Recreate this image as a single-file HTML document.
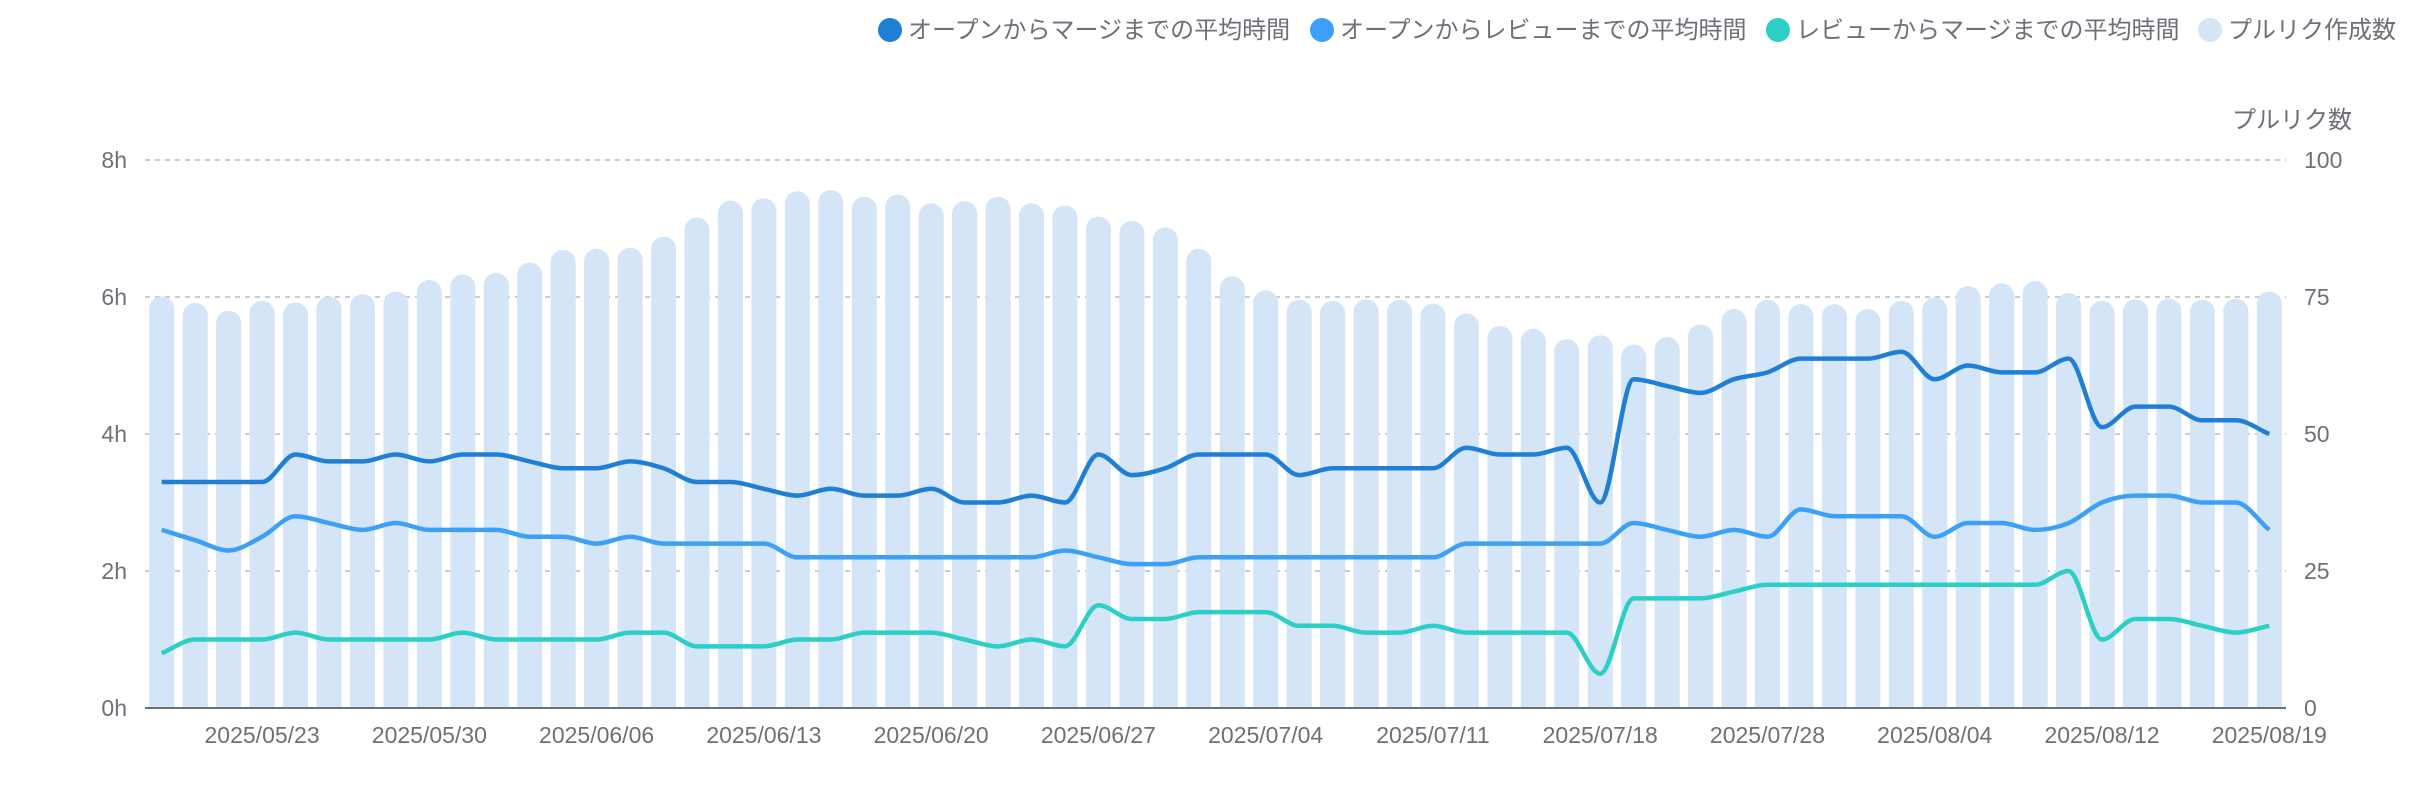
<!DOCTYPE html>
<html><head><meta charset="utf-8">
<style>
html,body{margin:0;padding:0;background:#fff;}
body{width:2420px;height:780px;overflow:hidden;font-family:"Liberation Sans","Noto Sans CJK JP",sans-serif;}
svg text{font-family:"Liberation Sans","Noto Sans CJK JP",sans-serif;fill:#6e7079;}
</style></head>
<body>
<svg id="chart" width="2420" height="780" xmlns="http://www.w3.org/2000/svg"></svg>
<script>
const categories=["05/20","05/21","05/22","05/23","05/26","05/27","05/28","05/29","05/30","06/02","06/03","06/04","06/05","06/06","06/09","06/10","06/11","06/12","06/13","06/16","06/17","06/18","06/19","06/20","06/23","06/24","06/25","06/26","06/27","06/30","07/01","07/02","07/03","07/04","07/07","07/08","07/09","07/10","07/11","07/14","07/15","07/16","07/17","07/18","07/21","07/22","07/23","07/24","07/28","07/29","07/30","07/31","08/01","08/04","08/05","08/06","08/07","08/08","08/12","08/13","08/14","08/15","08/18","08/19"];
const tickIndex=[3,8,13,18,23,28,33,38,43,48,53,58,63];
const tickLabels=["2025/05/23","2025/05/30","2025/06/06","2025/06/13","2025/06/20","2025/06/27","2025/07/04","2025/07/11","2025/07/18","2025/07/28","2025/08/04","2025/08/12","2025/08/19"];
const prCount=[75.1,73.9,72.5,74.3,74,75.1,75.5,76,78.1,79.1,79.4,81.3,83.6,83.8,84,86,89.5,92.6,93,94.3,94.5,93.3,93.7,92.1,92.5,93.3,92.1,91.7,89.7,88.9,87.7,83.8,78.8,76.2,74.5,74.3,74.6,74.5,73.8,72,69.7,69.2,67.3,68,66.3,67.7,70,72.8,74.5,73.7,73.7,72.8,74.3,74.9,77,77.5,77.9,75.7,74.3,74.6,74.7,74.5,74.7,76];
const openToMerge=[3.3,3.3,3.3,3.3,3.7,3.6,3.6,3.7,3.6,3.7,3.7,3.6,3.5,3.5,3.6,3.5,3.3,3.3,3.2,3.1,3.2,3.1,3.1,3.2,3.0,3.0,3.1,3.0,3.7,3.4,3.5,3.7,3.7,3.7,3.4,3.5,3.5,3.5,3.5,3.8,3.7,3.7,3.8,3.0,4.8,4.7,4.6,4.8,4.9,5.1,5.1,5.1,5.2,4.8,5.0,4.9,4.9,5.1,4.1,4.4,4.4,4.2,4.2,4.0];
const openToReview=[2.6,2.45,2.3,2.5,2.8,2.7,2.6,2.7,2.6,2.6,2.6,2.5,2.5,2.4,2.5,2.4,2.4,2.4,2.4,2.2,2.2,2.2,2.2,2.2,2.2,2.2,2.2,2.3,2.2,2.1,2.1,2.2,2.2,2.2,2.2,2.2,2.2,2.2,2.2,2.4,2.4,2.4,2.4,2.4,2.7,2.6,2.5,2.6,2.5,2.9,2.8,2.8,2.8,2.5,2.7,2.7,2.6,2.7,3.0,3.1,3.1,3.0,3.0,2.6];
const reviewToMerge=[0.8,1.0,1.0,1.0,1.1,1.0,1.0,1.0,1.0,1.1,1.0,1.0,1.0,1.0,1.1,1.1,0.9,0.9,0.9,1.0,1.0,1.1,1.1,1.1,1.0,0.9,1.0,0.9,1.5,1.3,1.3,1.4,1.4,1.4,1.2,1.2,1.1,1.1,1.2,1.1,1.1,1.1,1.1,0.5,1.6,1.6,1.6,1.7,1.8,1.8,1.8,1.8,1.8,1.8,1.8,1.8,1.8,2.0,1.0,1.3,1.3,1.2,1.1,1.2];
const leftTicks=[0,2,4,6,8];
const rightTicks=[0,25,50,75,100];

const svg=document.getElementById('chart');
const NS='http://www.w3.org/2000/svg';
const X0=145,X1=2286,Y0=708,Y1=160;
const band=(X1-X0)/categories.length;
const xc=i=>X0+band*(i+0.5);
const yL=v=>Y0-(v/8)*(Y0-Y1);
const yR=v=>Y0-(v/100)*(Y0-Y1);
function mk(tag,attrs,parent){const e=document.createElementNS(NS,tag);for(const k in attrs)e.setAttribute(k,attrs[k]);(parent||svg).appendChild(e);return e;}

leftTicks.forEach((t,i)=>{
  if(t>0){const g=mk('line',{x1:X0,x2:X1,y1:yL(t),y2:yL(t),stroke:'#c9ccd3','stroke-width':2,'stroke-dasharray':'5,5'});
  
  }
  const tx=mk('text',{x:127,y:yL(t)+8,'text-anchor':'end','font-size':23});tx.textContent=t+'h';
  
  
});
rightTicks.forEach(t=>{
  const tx=mk('text',{x:2304,y:yR(t)+8,'font-size':23});tx.textContent=t;
  
  
});
const rt=mk('text',{x:2352,y:128,'text-anchor':'end','font-size':24});rt.textContent='プルリク数';



const bw=25;
prCount.forEach((v,i)=>{
  const top=yR(v);
  const p=mk('path',{d:`M${xc(i)-bw/2},${Y0} V${top+bw/2} A${bw/2},${bw/2} 0 0 1 ${xc(i)+bw/2},${top+bw/2} V${Y0} Z`,fill:'#d3e5f6'});
  
  
});
const ax=mk('line',{x1:X0,x2:X1,y1:Y0,y2:Y0,stroke:'#6e7079','stroke-width':2});


tickIndex.forEach((ti,k)=>{
  const tx=mk('text',{x:xc(ti),y:743,'text-anchor':'middle','font-size':23});tx.textContent=tickLabels[k];
  
  
});

function monoPath(pts){
  const n=pts.length,dx=[],dy=[],m=[],t=[];
  for(let i=0;i<n-1;i++){dx[i]=pts[i+1][0]-pts[i][0];dy[i]=pts[i+1][1]-pts[i][1];m[i]=dy[i]/dx[i];}
  t[0]=m[0];t[n-1]=m[n-2];
  for(let i=1;i<n-1;i++){t[i]=(m[i-1]*m[i]<=0)?0:(m[i-1]+m[i])/2;}
  for(let i=0;i<n-1;i++){if(m[i]===0){t[i]=0;t[i+1]=0;continue;}
    const a=t[i]/m[i],b=t[i+1]/m[i],s=a*a+b*b;if(s>9){const tau=3/Math.sqrt(s);t[i]=tau*a*m[i];t[i+1]=tau*b*m[i];}}
  let d=`M${pts[0][0]},${pts[0][1]}`;
  for(let i=0;i<n-1;i++){const h=dx[i]/3;
    d+=` C${pts[i][0]+h},${pts[i][1]+t[i]*h} ${pts[i+1][0]-h},${pts[i+1][1]-t[i+1]*h} ${pts[i+1][0]},${pts[i+1][1]}`;}
  return d;
}
function line(vals,color,name){
  const p=mk('path',{d:monoPath(vals.map((v,i)=>[xc(i),yL(v)])),fill:'none',stroke:color,'stroke-width':4.5,'stroke-linejoin':'round'});
  
  
}
line(reviewToMerge,'#2ccfc5','line-review-to-merge');
line(openToReview,'#3ca0f8','line-open-to-review');
line(openToMerge,'#1f7fd6','line-open-to-merge');

const leg=[[890,'#1f7fd6','オープンからマージまでの平均時間','legend-open-to-merge'],[1322,'#3ca0f8','オープンからレビューまでの平均時間','legend-open-to-review'],[1778,'#2ccfc5','レビューからマージまでの平均時間','legend-review-to-merge'],[2210,'#d3e5f6','プルリク作成数','legend-pr-count']];
leg.forEach(l=>{
  const g=mk('g',{});
  
  
  mk('circle',{cx:l[0],cy:30,r:12,fill:l[1]},g);
  const tx=mk('text',{x:l[0]+18,y:38,'font-size':24},g);tx.textContent=l[2];
});
</script>
</body></html>
